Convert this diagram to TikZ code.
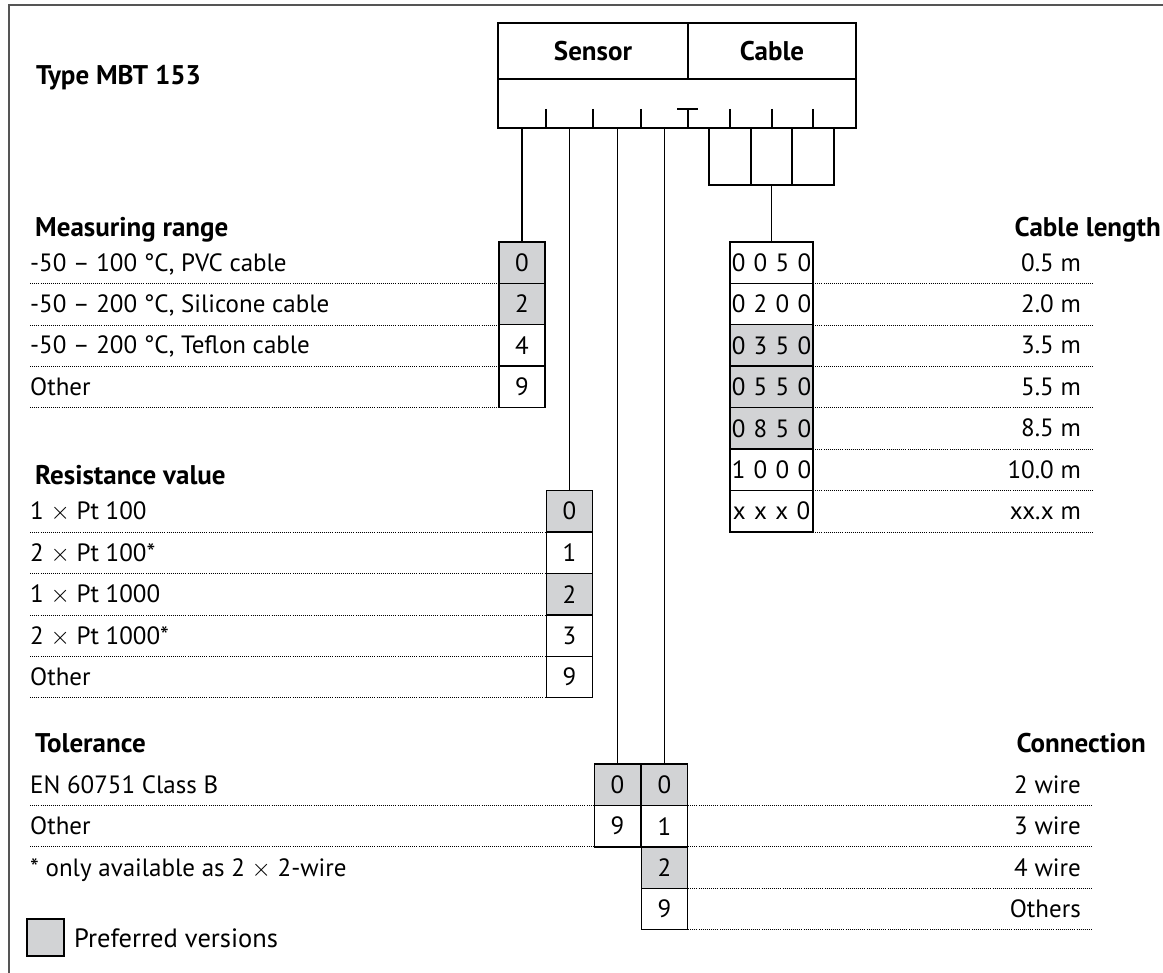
\documentclass[tikz,border=0pt]{standalone}
\usepackage{fontspec}
\setmainfont{PT Sans}
\definecolor{pref}{RGB}{210,211,213}
\definecolor{framegray}{RGB}{85,85,85}
\newcommand{\tms}{\ensuremath{\times}}
\begin{document}
\begin{tikzpicture}[x=1pt,y=-1pt,
  cell/.style={draw, line width=1.4pt, minimum width=46pt, minimum height=41.4pt, inner sep=0pt, font=\fontsize{25}{29}\selectfont},
  pcell/.style={cell, fill=pref},
  wcell/.style={cell, minimum width=83pt},
  wpcell/.style={pcell, minimum width=83pt},
  lbl/.style={inner sep=0pt, font=\fontsize{25}{29}\selectfont},
  hdr/.style={inner sep=0pt, font=\bfseries\fontsize{27}{31}\selectfont},
  dots/.style={line width=0.75pt, dash pattern=on 1pt off 1.1pt},
  wire/.style={line width=1.4pt},
  boxpart/.style={draw, line width=1.4pt, inner sep=0pt}]
\useasboundingbox (0,0) rectangle (1163,973);
% frame
\draw[framegray, line width=2.5pt] (9,973) -- (9,5) -- (1163,5);

% title
\node[hdr, anchor=base west] (title) at (36,85) {Type MBT 153};

% main code box
\node[boxpart, minimum width=190pt, minimum height=56pt, font=\bfseries\fontsize{27}{31}\selectfont] (sh) at (593,51) {Sensor};
\node[boxpart, minimum width=168pt, minimum height=56pt, font=\bfseries\fontsize{27}{31}\selectfont] (ch) at (772,51) {Cable};
\node[boxpart, minimum width=358pt, minimum height=49pt] (lb) at (677,103.5) {};
% ticks
\draw[wire] (546,109) -- (546,128);
\draw[wire] (593,109) -- (593,128);
\draw[wire] (641,109) -- (641,128);
\draw[wire] (677,109) -- (698,109) (688,109) -- (688,128);
\draw[wire] (730,109) -- (730,128);
\draw[wire] (772,109) -- (772,128);
\draw[wire] (813,109) -- (813,128);
% small cable boxes
\node[boxpart, minimum width=42pt, minimum height=57pt] (cb1) at (730,156.5) {};
\node[boxpart, minimum width=41pt, minimum height=57pt] (cb2) at (771.5,156.5) {};
\node[boxpart, minimum width=42pt, minimum height=57pt] (cb3) at (813,156.5) {};

% coordinates on main box bottom
\coordinate (t1) at (522,128);
\coordinate (t2) at (569.5,128);
\coordinate (t3) at (617.5,128);
\coordinate (t4) at (664.5,128);

% Measuring range
\node[hdr, anchor=base west] (mrh) at (35,237) {Measuring range};
\node[pcell] (m0) at (522,262.7) {0};
\node[pcell] (m1) at (522,304.1) {2};
\node[cell] (m2) at (522,345.5) {4};
\node[cell] (m3) at (522,387.0) {9};
\node[lbl, anchor=base west] (ml0) at (30,271.2) {-50 – 100 °C, PVC cable};
\node[lbl, anchor=base west] (ml1) at (30,312.6) {-50 – 200 °C, Silicone cable};
\node[lbl, anchor=base west] (ml2) at (30,354.0) {-50 – 200 °C, Teflon cable};
\node[lbl, anchor=base west] (ml3) at (30,395.5) {Other};
\foreach \y in {283.4,324.9,366.3,407.7} \draw[dots] (30,\y) -- (499,\y);
\draw[wire] (t1) -- (m0.north);

% Cable length
\node[hdr, anchor=base east] (clh) at (1161,237) {Cable length};
\node[wcell] (c0) at (771.5,262.7) {0\,\,0\,\,5\,\,0};
\node[wcell] (c1) at (771.5,304.1) {0\,\,2\,\,0\,\,0};
\node[wpcell] (c2) at (771.5,345.5) {0\,\,3\,\,5\,\,0};
\node[wpcell] (c3) at (771.5,387.0) {0\,\,5\,\,5\,\,0};
\node[wpcell] (c4) at (771.5,428.4) {0\,\,8\,\,5\,\,0};
\node[wcell] (c5) at (771.5,469.8) {1\,\,0\,\,0\,\,0};
\node[wcell] (c6) at (771.5,511.2) {x\,\,x\,\,x\,\,0};
\node[lbl, anchor=base east] (cl0) at (1081,271.2) {0.5 m};
\node[lbl, anchor=base east] (cl1) at (1081,312.6) {2.0 m};
\node[lbl, anchor=base east] (cl2) at (1081,354.0) {3.5 m};
\node[lbl, anchor=base east] (cl3) at (1081,395.5) {5.5 m};
\node[lbl, anchor=base east] (cl4) at (1081,436.9) {8.5 m};
\node[lbl, anchor=base east] (cl5) at (1081,478.3) {10.0 m};
\node[lbl, anchor=base east] (cl6) at (1081,519.7) {xx.x m};
\foreach \y in {283.4,324.9,366.3,407.7,449.1,490.6,532.0} \draw[dots] (813,\y) -- (1093,\y);
\draw[wire] (cb2.south) -- (c0.north);

% Resistance value
\node[hdr, anchor=base west] (rvh) at (35,485) {Resistance value};
\node[pcell] (r0) at (569.5,511.2) {0};
\node[cell] (r1) at (569.5,552.6) {1};
\node[pcell] (r2) at (569.5,594.1) {2};
\node[cell] (r3) at (569.5,635.5) {3};
\node[cell] (r4) at (569.5,676.9) {9};
\node[lbl, anchor=base west] (rl0) at (30,519.7) {1 \tms{} Pt 100};
\node[lbl, anchor=base west] (rl1) at (30,561.1) {2 \tms{} Pt 100*};
\node[lbl, anchor=base west] (rl2) at (30,602.6) {1 \tms{} Pt 1000};
\node[lbl, anchor=base west] (rl3) at (30,644.0) {2 \tms{} Pt 1000*};
\node[lbl, anchor=base west] (rl4) at (30,685.4) {Other};
\foreach \y in {532.0,573.5,614.9,656.3,697.7} \draw[dots] (30,\y) -- (546,\y);
\draw[wire] (t2) -- (r0.north);

% Tolerance
\node[hdr, anchor=base west] (toh) at (35,752) {Tolerance};
\node[pcell] (o0) at (617.5,784.7) {0};
\node[cell] (o1) at (617.5,826.1) {9};
\node[lbl, anchor=base west] (ol0) at (30,793.2) {EN 60751 Class B};
\node[lbl, anchor=base west] (ol1) at (30,834.6) {Other};
\foreach \y in {805.4,846.8} \draw[dots] (30,\y) -- (594,\y);
\draw[wire] (t3) -- (o0.north);

% Connection
\node[hdr, anchor=base east] (coh) at (1146,752) {Connection};
\node[pcell] (n0) at (664.5,784.7) {0};
\node[cell] (n1) at (664.5,826.1) {1};
\node[pcell] (n2) at (664.5,867.5) {2};
\node[cell] (n3) at (664.5,909.0) {9};
\node[lbl, anchor=base east] (nl0) at (1081,793.2) {2 wire};
\node[lbl, anchor=base east] (nl1) at (1081,834.6) {3 wire};
\node[lbl, anchor=base east] (nl2) at (1081,876.0) {4 wire};
\node[lbl, anchor=base east] (nl3) at (1081,917.5) {Others};
\foreach \y in {805.4,846.8,888.2,929.6} \draw[dots] (688,\y) -- (1093,\y);
\draw[wire] (t4) -- (n0.north);

% footnote and legend
\node[lbl, anchor=base west] (fn) at (30,876.0) {* only available as 2 \tms{} 2-wire};
\node[draw, fill=pref, line width=1.4pt, minimum size=37pt, inner sep=0pt] (leg) at (45.5,937.5) {};
\node[inner sep=0pt, anchor=base west, font=\fontsize{26.5}{31}\selectfont] (legt) at (74,947.5) {Preferred versions};
\end{tikzpicture}
\end{document}
